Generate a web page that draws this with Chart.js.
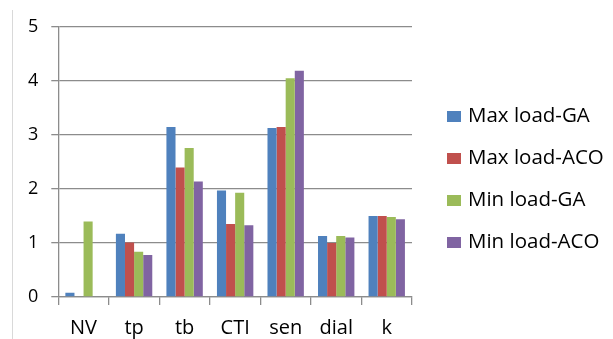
<!DOCTYPE html>
<html>
<head>
<meta charset="utf-8">
<script src="https://cdn.jsdelivr.net/npm/chart.js@4"></script>
<style>
  html, body { margin: 0; padding: 0; background: #fff; }
  #chart { display: block; }
</style>
</head>
<body>
<canvas id="chart" width="613" height="339"></canvas>
<script>
// categories and series
const categories = ["NV", "tp", "tb", "CTI", "sen", "dial", "k"];
const maxLoadGA = [0.08, 1.17, 3.15, 1.97, 3.13, 1.13, 1.50];
const maxLoadACO = [0, 1.01, 2.40, 1.35, 3.15, 1.00, 1.50];
const minLoadGA = [1.40, 0.84, 2.76, 1.93, 4.05, 1.13, 1.48];
const minLoadACO = [0, 0.78, 2.14, 1.33, 4.19, 1.10, 1.44];
const yTicks = [0, 1, 2, 3, 4, 5];

const seriesNames = ["Max load-GA", "Max load-ACO", "Min load-GA", "Min load-ACO"];
const seriesColors = ["#4f81bd", "#c0504d", "#9bbb59", "#8064a2"];

const gridColor = "#8c8c8c";
const fontFamily = "'Open Sans', sans-serif";

// legend drawn to the right of the plot, one row per series
const sideLegend = {
  id: "sideLegend",
  afterDraw(chart) {
    const ctx = chart.ctx;
    const area = chart.chartArea;
    const x = area.right + 35;
    const rowGap = 42;
    const yStart = 115;
    ctx.save();
    ctx.font = "20.5px " + fontFamily;
    ctx.textBaseline = "middle";
    ctx.textAlign = "left";
    chart.data.datasets.forEach((ds, i) => {
      const y = yStart + i * rowGap;
      ctx.fillStyle = ds.backgroundColor;
      ctx.fillRect(x, y - 4, 14, 11);
      ctx.fillStyle = "#000";
      ctx.fillText(ds.label, x + 21, y + 1);
    });
    ctx.restore();
  }
};

// thin frame line on the left edge
const leftRule = {
  id: "leftRule",
  beforeDraw(chart) {
    const ctx = chart.ctx;
    ctx.save();
    ctx.strokeStyle = "#d9d9d9";
    ctx.lineWidth = 1;
    ctx.beginPath();
    ctx.moveTo(12.5, 10);
    ctx.lineTo(12.5, 339);
    ctx.stroke();
    ctx.restore();
  }
};

const seriesData = [maxLoadGA, maxLoadACO, minLoadGA, minLoadACO];

new Chart(document.getElementById("chart"), {
  type: "bar",
  data: {
    labels: categories,
    datasets: seriesData.map((vals, i) => ({
      label: seriesNames[i],
      data: vals,
      backgroundColor: seriesColors[i],
      borderWidth: 0,
      categoryPercentage: 0.72,
      barPercentage: 1.0
    }))
  },
  options: {
    responsive: false,
    animation: false,
    layout: {
      padding: { left: 15, right: 201, top: 27, bottom: -12 }
    },
    plugins: {
      legend: { display: false },
      tooltip: { enabled: false }
    },
    scales: {
      x: {
        offset: true,
        grid: {
          offset: true,
          drawOnChartArea: false,
          drawTicks: true,
          tickLength: 8,
          color: gridColor,
          lineWidth: 1.3
        },
        border: { display: true, color: gridColor, width: 1.3 },
        ticks: {
          color: "#000",
          padding: 11,
          font: { family: fontFamily, size: 20 }
        }
      },
      y: {
        min: 0,
        max: 5,
        afterBuildTicks(scale) {
          scale.ticks = yTicks.map(v => ({ value: v }));
        },
        grid: {
          color: gridColor,
          lineWidth: 1.3,
          drawTicks: true,
          tickLength: 7
        },
        border: { display: true, color: gridColor, width: 1.3 },
        ticks: {
          color: "#000",
          padding: 13,
          font: { family: fontFamily, size: 18 }
        }
      }
    }
  },
  plugins: [leftRule, sideLegend]
});
</script>
</body>
</html>
